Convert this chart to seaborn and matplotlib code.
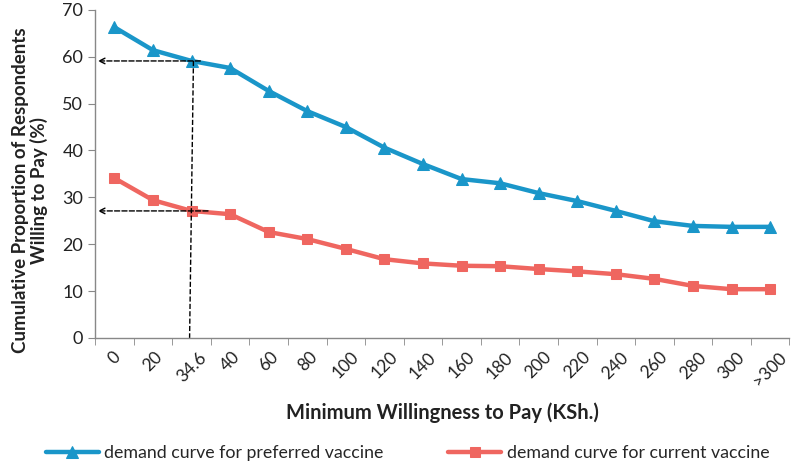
import pandas as pd
import matplotlib.pyplot as plt
import seaborn as sns

# Minimum willingness to pay categories (KSh.)
categories = ['0', '20', '34.6', '40', '60', '80', '100', '120', '140', '160',
              '180', '200', '220', '240', '260', '280', '300', '>300']
preferred = [66.3, 61.4, 59.1, 57.6, 52.7, 48.4, 45.0, 40.6, 37.1, 33.9,
             33.0, 30.9, 29.2, 27.1, 24.9, 23.9, 23.7, 23.7]
current = [34.1, 29.4, 27.1, 26.4, 22.6, 21.1, 19.0, 16.8, 15.9, 15.4,
           15.3, 14.7, 14.2, 13.6, 12.6, 11.1, 10.4, 10.4]

df = pd.DataFrame({'pos': range(len(categories)), 'category': categories,
                   'preferred': preferred, 'current': current})

sns.set_style('white')
plt.rcParams['font.family'] = ['Lato', 'DejaVu Sans']

blue = '#1a96c9'
red = '#ef6660'

fig = plt.figure(figsize=(7.99, 4.70), dpi=100)
ax = fig.add_axes([0.119, 0.281, 0.869, 0.698])

sns.lineplot(data=df, x='pos', y='preferred', ax=ax, color=blue, lw=3.2,
             marker='^', markersize=9, markeredgecolor=blue,
             label='demand curve for preferred vaccine', legend=False)
sns.lineplot(data=df, x='pos', y='current', ax=ax, color=red, lw=3.2,
             marker='s', markersize=7, markeredgecolor=red,
             label='demand curve for current vaccine', legend=False)

# dashed reference lines at 34.6 KSh.
x_ref = categories.index('34.6')
ax.plot([x_ref + 0.05, x_ref - 0.05], [preferred[x_ref], 0], ls='--', color='black', lw=1)
ax.annotate('', xy=(-0.5, preferred[x_ref]), xytext=(x_ref + 0.3, preferred[x_ref]),
            arrowprops=dict(arrowstyle='->', ls='--', color='black', lw=1))
ax.annotate('', xy=(-0.5, current[x_ref]), xytext=(x_ref + 0.5, current[x_ref]),
            arrowprops=dict(arrowstyle='->', ls='--', color='black', lw=1))

ax.set_xlim(-0.5, len(categories) - 0.5)
ax.set_ylim(0, 70)
ax.set_yticks(range(0, 71, 10))
ax.set_xticks(df['pos'])
ax.set_xticklabels(categories, rotation=45, ha='center', fontsize=12.5, color='#222222')
ax.set_xticks([p - 0.5 for p in range(len(categories) + 1)], minor=True)
ax.tick_params(axis='x', which='major', length=0, pad=8)
ax.tick_params(axis='x', which='minor', length=5, color='#888888', direction='out')
ax.tick_params(axis='y', length=5, color='#888888', direction='out', labelsize=13,
               labelcolor='#222222')
ax.xaxis.set_ticks_position('bottom')
ax.yaxis.set_ticks_position('left')

for s in ['top', 'right']:
    ax.spines[s].set_visible(False)
for s in ['left', 'bottom']:
    ax.spines[s].set_color('#888888')
    ax.spines[s].set_linewidth(1)

ax.set_xlabel('Minimum Willingness to Pay (KSh.)', fontsize=14.5, fontweight='bold',
              color='#222222', labelpad=10)
ax.set_ylabel('Cumulative Proportion of Respondents\nWilling to Pay (%)', fontsize=13.5,
              fontweight='bold', color='#222222', linespacing=1.05)
ax.yaxis.set_label_coords(-0.068, 0.45)

handles, labels = ax.get_legend_handles_labels()
fig.legend(handles, labels, loc='lower center', bbox_to_anchor=(0.51, -0.015), ncol=2,
           frameon=False, fontsize=12.8, columnspacing=3.6, handlelength=3,
           handletextpad=0.3)

fig.savefig('out.png', dpi=100)
